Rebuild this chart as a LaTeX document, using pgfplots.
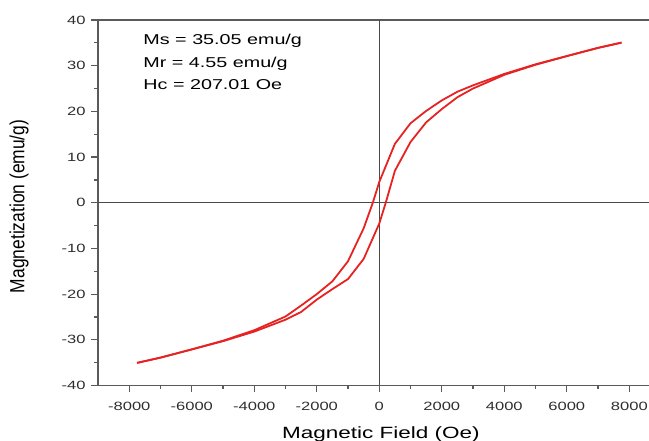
\documentclass[border=0pt]{standalone}
\usepackage{pgfplots}
\pgfplotsset{compat=1.18}
\usepackage{fontspec}
\setmainfont{Liberation Sans}[FakeStretch=1.38]
\newfontfamily\vfont{Liberation Sans}[FakeStretch=0.85]
\definecolor{axisgray}{HTML}{5A5A5A}
\definecolor{zerogray}{HTML}{4A4A4A}
\definecolor{loopred}{HTML}{E62222}
\definecolor{labelgray}{HTML}{2E2E2E}

% descending branch (from +H_max to -H_max)
\pgfplotstableread{
H M
7750 35.05
7000 33.9
6000 32.1
5000 30.3
4000 28.2
3000 25.7
2500 24.3
2000 22.4
1500 20.1
1000 17.4
500 12.9
0 4.55
-207 0
-500 -5.6
-1000 -12.8
-1500 -17.2
-2000 -20.0
-2500 -22.5
-3000 -24.9
-4000 -27.9
-5000 -30.2
-6000 -32.1
-7000 -33.9
-7750 -35.05
}\descbranch

% ascending branch (from -H_max to +H_max)
\pgfplotstableread{
H M
-7750 -35.05
-7000 -33.9
-6000 -32.1
-5000 -30.3
-4000 -28.2
-3000 -25.6
-2500 -23.9
-2000 -21.2
-1500 -18.9
-1000 -16.7
-500 -12.3
0 -4.55
207 0
500 7.0
1000 13.3
1500 17.6
2000 20.5
2500 23.1
3000 25.0
4000 28.0
5000 30.2
6000 32.1
7000 33.9
7750 35.05
}\ascbranch

\begin{document}
\begin{tikzpicture}
\begin{axis}[
  scale only axis,
  width=551pt, height=365.5pt,
  xmin=-9000, xmax=8630,
  ymin=-40, ymax=40,
  axis line style={draw=none},
  xtick pos=bottom, ytick pos=left,
  tick align=outside,
  major tick length=7pt, minor tick length=3.5pt,
  every tick/.style={draw=axisgray, line width=1.2pt},
  minor x tick num=1, minor y tick num=1,
  xtick={-8000,-6000,-4000,-2000,0,2000,4000,6000,8000},
  xticklabels={-8000,-6000,-4000,-2000,0,2000,4000,6000,8000},
  ytick={-40,-30,-20,-10,0,10,20,30,40},
  yticklabels={-40,-30,-20,-10,0,10,20,30,40},
  tick label style={font=\fontsize{12}{14}\selectfont, text=labelgray},
  xticklabel style={anchor=base, yshift=-18pt},
  yticklabel style={anchor=east, xshift=-2pt},
  xlabel={Magnetic Field (Oe)},
  ylabel={Magnetization (emu/g)},
  xlabel style={at={(axis description cs:0.5136,0)}, anchor=base, yshift=-53pt,
    font=\fontsize{16.3}{18}\selectfont, text=black},
  ylabel style={at={(axis description cs:0,0.49)}, anchor=center, yshift=79pt,
    font=\vfont\fontsize{20.5}{22}\selectfont, text=black},
  clip=false,
]
  % frame: top, left and bottom sides
  \draw[color=axisgray, line width=1.5pt] (axis cs:-9000,40) -- (axis cs:8700,40);
  \draw[color=axisgray, line width=1.5pt] (axis cs:-9000,-40) -- (axis cs:8700,-40);
  \draw[color=axisgray, line width=1.5pt] (axis cs:-9000,40.15) -- (axis cs:-9000,-40.15);
  % zero lines
  \draw[zerogray, line width=1pt] (axis cs:0,-40) -- (axis cs:0,40);
  \draw[zerogray, line width=1pt] (axis cs:-9000,0) -- (axis cs:8700,0);

  \addplot[loopred, line width=1.8pt, line join=round] table[x=H, y=M] {\descbranch};
  \addplot[loopred, line width=1.8pt, line join=round] table[x=H, y=M] {\ascbranch};

  \node[anchor=base west, font=\fontsize{14.3}{16}\selectfont] at (axis cs:-7658,34.53) {Ms = 35.05 emu/g};
  \node[anchor=base west, font=\fontsize{14.3}{16}\selectfont] at (axis cs:-7658,29.58) {Mr = 4.55 emu/g};
  \node[anchor=base west, font=\fontsize{14.3}{16}\selectfont] at (axis cs:-7658,24.68) {Hc = 207.01 Oe};
\end{axis}
\pgfresetboundingbox
\path (current axis.south west) ++(-98pt,-55.5pt) rectangle ++(649pt,441pt);
\end{tikzpicture}
\end{document}
